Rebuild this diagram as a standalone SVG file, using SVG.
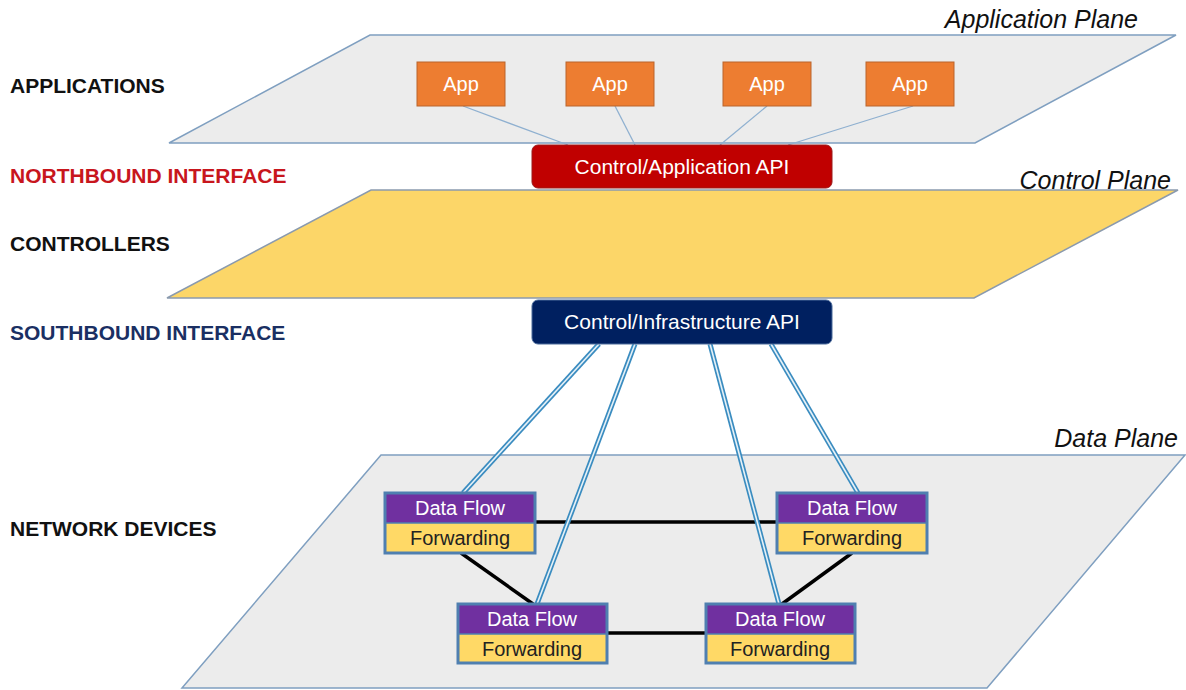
<svg xmlns="http://www.w3.org/2000/svg" width="1186" height="690" viewBox="0 0 1186 690">
<style>
.plane{fill:#ececec;stroke:#7f9fc0;stroke-width:1.5}
.ctrl{fill:#fcd668;stroke:#8a9aae;stroke-width:1.5}
.lbl{font-family:"Liberation Sans",Arial,sans-serif;font-weight:bold;font-size:21px}
.pl{font-family:"Liberation Sans",Arial,sans-serif;font-style:italic;font-size:25px;fill:#111;text-anchor:end}
.app rect{fill:#ed7d31;stroke:#b9652c;stroke-width:1}
.app text{font-family:"Liberation Sans",Arial,sans-serif;font-size:20px;fill:#fff;text-anchor:middle}
.api text{font-family:"Liberation Sans",Arial,sans-serif;font-size:21px;fill:#fff;text-anchor:middle}
.dev .df{fill:#7030a0}
.dev .fw{fill:#ffd966}
.dev .bd{fill:none;stroke:#4f7fb0;stroke-width:3}
.dev text{font-family:"Liberation Sans",Arial,sans-serif;font-size:20px;text-anchor:middle}
.thin{stroke:#8fb0d0;stroke-width:1.3;fill:none}
.blk{stroke:#000;stroke-width:3.5;fill:none}
.dbo{stroke:#3a8cc0;stroke-width:5;fill:none}
.dbi{stroke:#e6f1f7;stroke-width:1.6;fill:none}
</style>
<rect width="1186" height="690" fill="#fff"/>

<g id="planes">
<polygon class="plane" points="370,35 1176,35 975,143 169,143"/>
<polygon class="ctrl" points="371,190 1178,190 974,298 167,298"/>
<polygon class="plane" points="381,455 1185,455 987,688 182,688"/>
</g>

<g id="labels">
<text class="lbl" x="10" y="93" fill="#111">APPLICATIONS</text>
<text class="lbl" x="10" y="183" fill="#c8161d">NORTHBOUND INTERFACE</text>
<text class="lbl" x="10" y="251" fill="#111">CONTROLLERS</text>
<text class="lbl" x="10" y="340" fill="#1a2f63">SOUTHBOUND INTERFACE</text>
<text class="lbl" x="10" y="536" fill="#111">NETWORK DEVICES</text>
<text class="pl" x="1138" y="28">Application Plane</text>
<text class="pl" x="1171" y="189">Control Plane</text>
<text class="pl" x="1178" y="447">Data Plane</text>
</g>

<g id="connectors">
<line class="thin" x1="463" y1="106" x2="568" y2="145"/>
<line class="thin" x1="615" y1="106" x2="635" y2="145"/>
<line class="thin" x1="767" y1="106" x2="720" y2="145"/>
<line class="thin" x1="913" y1="106" x2="788" y2="145"/>
<line class="blk" x1="535" y1="522" x2="777" y2="522"/>
<line class="blk" x1="607" y1="633" x2="706" y2="633"/>
<line class="blk" x1="461" y1="553" x2="533" y2="604"/>
<line class="blk" x1="852" y1="553" x2="782" y2="604"/>
<line class="dbo" x1="599" y1="344" x2="463" y2="493"/>
<line class="dbi" x1="599" y1="344" x2="463" y2="493"/>
<line class="dbo" x1="635" y1="344" x2="537" y2="604"/>
<line class="dbi" x1="635" y1="344" x2="537" y2="604"/>
<line class="dbo" x1="710" y1="344" x2="779" y2="604"/>
<line class="dbi" x1="710" y1="344" x2="779" y2="604"/>
<line class="dbo" x1="771" y1="344" x2="858" y2="493"/>
<line class="dbi" x1="771" y1="344" x2="858" y2="493"/>
</g>

<g id="app1" class="app"><rect x="417" y="62" width="88" height="44"/><text x="461" y="91">App</text></g>
<g id="app2" class="app"><rect x="566" y="62" width="88" height="44"/><text x="610" y="91">App</text></g>
<g id="app3" class="app"><rect x="723" y="62" width="88" height="44"/><text x="767" y="91">App</text></g>
<g id="app4" class="app"><rect x="866" y="62" width="88" height="44"/><text x="910" y="91">App</text></g>

<g id="northbound-api" class="api"><rect x="532" y="145" width="300" height="43" rx="6" fill="#c00000" stroke="#9a1a1a" stroke-width="1"/><text x="682" y="174">Control/Application API</text></g>
<g id="southbound-api" class="api"><rect x="532" y="300" width="300" height="44" rx="6" fill="#002060" stroke="#4a6a9a" stroke-width="1"/><text x="682" y="329">Control/Infrastructure API</text></g>

<g id="dev1" class="dev"><rect class="df" x="385" y="493" width="150" height="30"/><rect class="fw" x="385" y="523" width="150" height="30"/><rect class="bd" x="385" y="493" width="150" height="60"/><line x1="385" y1="523" x2="535" y2="523" stroke="#4f7fb0" stroke-width="1.5"/><text x="460" y="515" fill="#fff">Data Flow</text><text x="460" y="545" fill="#222">Forwarding</text></g>
<g id="dev2" class="dev"><rect class="df" x="777" y="493" width="150" height="30"/><rect class="fw" x="777" y="523" width="150" height="30"/><rect class="bd" x="777" y="493" width="150" height="60"/><line x1="777" y1="523" x2="927" y2="523" stroke="#4f7fb0" stroke-width="1.5"/><text x="852" y="515" fill="#fff">Data Flow</text><text x="852" y="545" fill="#222">Forwarding</text></g>
<g id="dev3" class="dev"><rect class="df" x="458" y="604" width="149" height="30"/><rect class="fw" x="458" y="634" width="149" height="29"/><rect class="bd" x="458" y="604" width="149" height="59"/><line x1="458" y1="634" x2="607" y2="634" stroke="#4f7fb0" stroke-width="1.5"/><text x="532" y="626" fill="#fff">Data Flow</text><text x="532" y="656" fill="#222">Forwarding</text></g>
<g id="dev4" class="dev"><rect class="df" x="706" y="604" width="149" height="30"/><rect class="fw" x="706" y="634" width="149" height="29"/><rect class="bd" x="706" y="604" width="149" height="59"/><line x1="706" y1="634" x2="855" y2="634" stroke="#4f7fb0" stroke-width="1.5"/><text x="780" y="626" fill="#fff">Data Flow</text><text x="780" y="656" fill="#222">Forwarding</text></g>
</svg>
